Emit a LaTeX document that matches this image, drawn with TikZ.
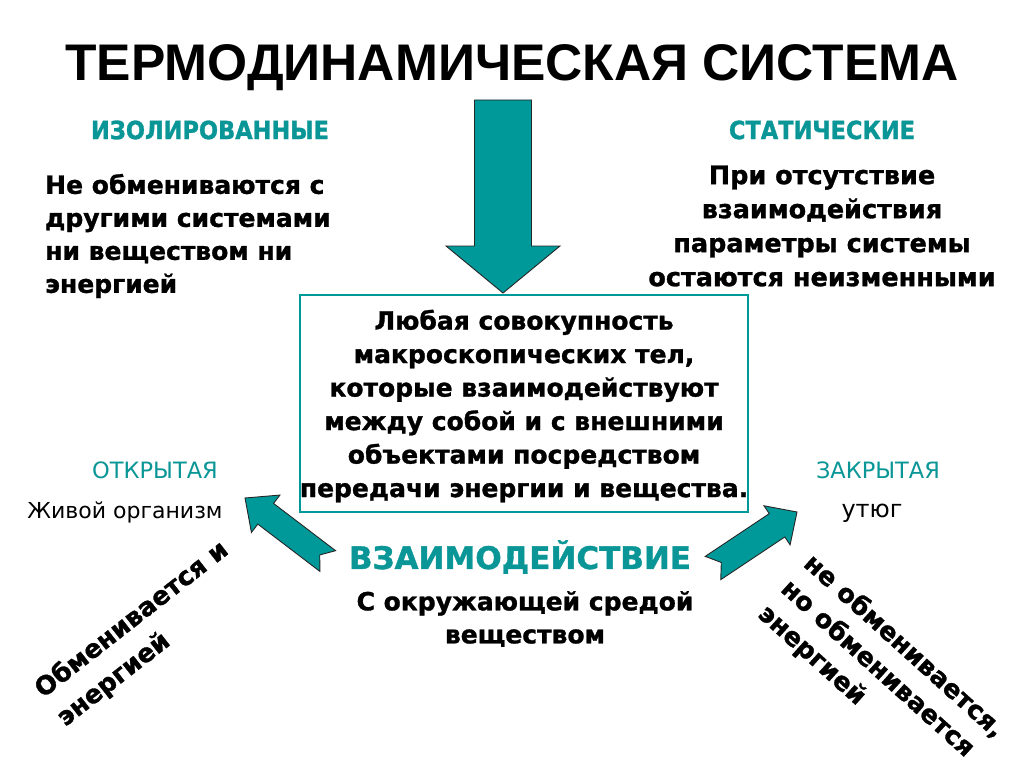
\documentclass[tikz,border=0pt]{standalone}
\usepackage{fontspec}
\setmainfont{DejaVu Sans}[BoldFont={DejaVu Sans Bold}, BoldFeatures={FakeBold=1.2}]
\newfontfamily\titlefont{Liberation Sans}
\newfontfamily\condfont{DejaVu Sans Condensed}[BoldFont={DejaVu Sans Condensed Bold}, BoldFeatures={FakeBold=1.2}]
\definecolor{tealc}{RGB}{0,153,153}
\definecolor{tealtxt}{RGB}{10,150,150}
\tikzset{
  title/.style={font=\titlefont\bfseries\fontsize{51.5}{60}\selectfont, inner sep=0},
  lbl/.style={text=tealtxt, font=\condfont\bfseries\fontsize{25}{29}\selectfont, inner sep=0},
  lblthin/.style={text=tealtxt, font=\fontsize{22.5}{26}\selectfont, inner sep=0},
  plain/.style={font=\fontsize{22}{26}\selectfont, inner sep=0},
  body/.style={font=\bfseries\fontsize{25}{33}\selectfont, inner sep=0},
  boxtxt/.style={font=\bfseries\fontsize{25}{33.5}\selectfont, inner sep=0, align=center},
  bigl/.style={text=tealtxt, font=\bfseries\fontsize{31}{35}\selectfont, inner sep=0},
  blockarr/.style={fill=tealc, draw=black!85, line width=0.9pt, line join=miter},
  framebox/.style={draw=tealc, line width=2.6pt, fill=white, inner sep=0}
}
\begin{document}
\begin{tikzpicture}[x=1pt,y=-1pt]
\useasboundingbox (0,0) rectangle (1024,767);
\fill[white] (0,0) rectangle (1024,767);

\node[title] (title) at (512,68) {ТЕРМОДИНАМИЧЕСКАЯ СИСТЕМА};

% down arrow
\path[blockarr, shift={(503,293)}, rotate=-90]
  (0,0) -- (-47,-57) -- (-47,-28.5) -- (-193,-28.5) -- (-193,28.5) -- (-47,28.5) -- (-47,57) -- cycle;

% frame box
\node[framebox, minimum width=448pt, minimum height=217pt] (box) at (524,403.5) {};
\node[boxtxt] (boxtext) at (524,406) {Любая совокупность\\макроскопических тел,\\которые взаимодействуют\\между собой и с внешними\\объектами посредством\\передачи энергии и вещества.};

% left
\node[lbl] (isol) at (210,130) {ИЗОЛИРОВАННЫЕ};
\node[body, align=left, anchor=west] (isoltext) at (45,236) {Не обмениваются с\\другими системами\\ни веществом ни\\энергией};

% right
\node[lbl] (stat) at (822,130) {СТАТИЧЕСКИЕ};
\node[body, align=center, font=\bfseries\fontsize{25.5}{34}\selectfont] (stattext) at (822,226) {При отсутствие\\взаимодействия\\параметры системы\\остаются неизменными};

% open / closed
\node[lblthin] (open) at (155,470) {ОТКРЫТАЯ};
\node[plain] (organism) at (125,512) {Живой организм};
\node[lblthin] (closed) at (878,470) {ЗАКРЫТАЯ};
\node[plain, font=\fontsize{24}{28}\selectfont] (iron) at (872,513) {утюг};

% side arrows
\path[blockarr, shift={(245,498)}, rotate=142.7]
  (0,0) -- (-26,-23.5) -- (-26,-13) -- (-104,-13) -- (-94,0) -- (-104,13) -- (-26,13) -- (-26,23.5) -- cycle;
\path[blockarr, shift={(797,512)}, rotate=33.7]
  (0,0) -- (-24,-23.5) -- (-24,-14) -- (-101,-14) -- (-91,0) -- (-101,14) -- (-24,14) -- (-24,23.5) -- cycle;

% interaction
\node[bigl] (inter) at (520,557) {ВЗАИМОДЕЙСТВИЕ};
\node[body, align=center] (intertext) at (525,619) {С окружающей средой\\веществом};

% rotated
\node[body, align=left, rotate=38, font=\bfseries\fontsize{25.5}{36}\selectfont] (opentext) at (143,634) {Обменивается и\\энергией};
\node[body, align=left, rotate=-42, font=\bfseries\fontsize{25.5}{34}\selectfont] (closedtext) at (881,672) {не обменивается,\\но обменивается\\энергией};
\end{tikzpicture}
\end{document}
